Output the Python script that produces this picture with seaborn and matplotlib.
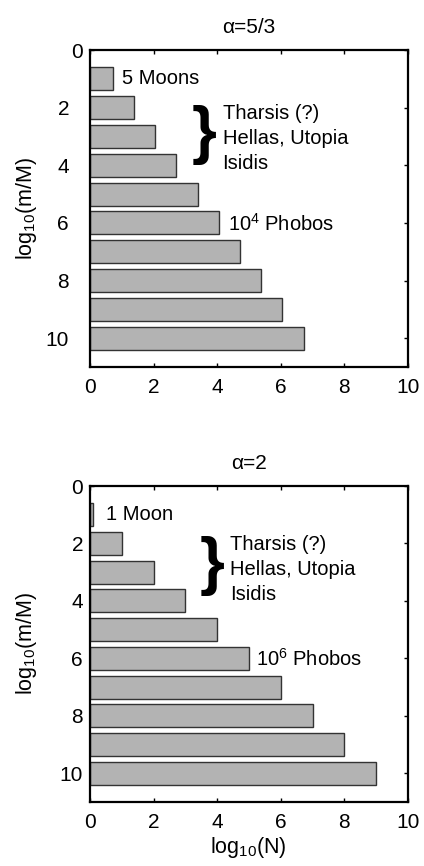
import numpy as np
import pandas as pd
import matplotlib
matplotlib.use("Agg")
import matplotlib.pyplot as plt
import matplotlib.transforms as mtransforms
import seaborn as sns

sns.set_theme(style="white")
plt.rcParams['font.family'] = ['Liberation Sans', 'DejaVu Sans']
plt.rcParams['text.color'] = 'black'
plt.rcParams['axes.labelcolor'] = 'black'
plt.rcParams['xtick.color'] = 'black'
plt.rcParams['ytick.color'] = 'black'

# data
log_mass = [1, 2, 3, 4, 5, 6, 7, 8, 9, 10]
logN_a53 = [0.72, 1.39, 2.05, 2.72, 3.39, 4.05, 4.72, 5.39, 6.05, 6.72]
logN_a2 = [0.1, 1.0, 2.0, 3.0, 4.0, 5.0, 6.0, 7.0, 8.0, 9.0]
titles = ["\u03b1=5/3", "\u03b1=2"]
xticks = [0, 2, 4, 6, 8, 10]
yticks = [0, 2, 4, 6, 8, 10]

moon_labels = ["5 Moons", "1 Moon"]
phobos_labels = ["$\\mathregular{10^4}$ Phobos", "$\\mathregular{10^6}$ Phobos"]
basin_lines = ["Tharsis (?)", "Hellas, Utopia", "Isidis"]

W, H = 424, 866
fig = plt.figure(figsize=(W / 100, H / 100), dpi=100)

axes_px = [(90, 50, 318, 317), (90, 486, 318, 316)]
series = [logN_a53, logN_a2]

# annotation positions (data coords)
moon_pos = [(1.0, 1.0), (0.5, 1.0)]
basin_x = [4.17, 4.4]
basin_y = [[2.2, 3.07, 3.93], [2.03, 2.9, 3.76]]
brace_pos = [(3.58, 2.95), (3.83, 2.8)]
phobos_pos = [(4.33, 6.03), (5.22, 6.02)]

FS = 14.5
for i in range(2):
    l, t, w, h = axes_px[i]
    ax = fig.add_axes([l / W, (H - t - h) / H, w / W, h / H])
    df = pd.DataFrame({"m": log_mass, "N": series[i]})
    sns.barplot(data=df, x="N", y="m", orient="h", native_scale=True,
                width=0.8, color="#b3b3b3", saturation=1,
                edgecolor="#333333", linewidth=1.0, ax=ax)
    ax.set_xlim(0, 10)
    ax.set_ylim(11, 0)
    ax.set_xticks(xticks)
    ax.set_yticks(yticks)
    ax.set_xticklabels([str(v) for v in xticks])
    ax.set_yticklabels([str(v) for v in yticks])
    ax.tick_params(direction="in", length=3, width=1, top=True, right=True,
                   left=True, bottom=True, labelsize=15, colors="black")
    ax.tick_params(axis="x", pad=8)
    ax.tick_params(axis="y", pad=5)
    for s in ax.spines.values():
        s.set_visible(True)
        s.set_color("black")
        s.set_linewidth(1.6)
    ax.set_ylabel("log$_{\\mathregular{10}}$(m/M)", fontsize=15.5)
    ax.yaxis.set_label_coords(-0.16, 0.5)
    if i == 1:
        ax.set_xlabel("log$_{\\mathregular{10}}$(N)", fontsize=15.5)
        ax.xaxis.set_label_coords(0.497, -0.105)
    else:
        ax.set_xlabel("")
        # MATLAB-style offset: non-zero y labels sit further left
        for tk in ax.yaxis.get_major_ticks()[1:]:
            lab = tk.label1
            lab.set_transform(lab.get_transform() +
                              mtransforms.ScaledTranslation(-14 / 100, 0, fig.dpi_scale_trans))
    ax.set_title(titles[i], fontsize=15, pad=12)
    ax.grid(False)

    ax.text(moon_pos[i][0], moon_pos[i][1], moon_labels[i], fontsize=FS,
            va="center", ha="left")
    for txt, yy in zip(basin_lines, basin_y[i]):
        ax.text(basin_x[i], yy, txt, fontsize=FS, va="center", ha="left")
    ax.text(brace_pos[i][0], brace_pos[i][1], "}", fontsize=46,
            fontweight="bold", va="center", ha="center")
    ax.text(phobos_pos[i][0], phobos_pos[i][1], phobos_labels[i], fontsize=FS,
            va="center", ha="left")

fig.savefig("out.png", dpi=100)
